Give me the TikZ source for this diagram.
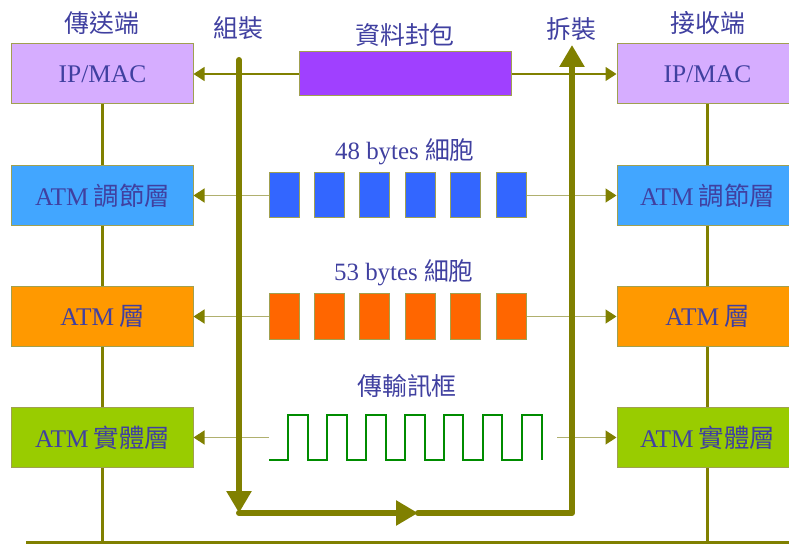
\documentclass[tikz,border=0pt]{standalone}
\usepackage{fontspec}
\setmainfont{Liberation Serif}
\newfontfamily\cjk{Noto Sans CJK TC}
\usetikzlibrary{arrows.meta}
\definecolor{txt}{RGB}{64,64,160}
\definecolor{oliv}{RGB}{128,128,0}
\definecolor{lolive}{RGB}{176,176,110}
\definecolor{bord}{RGB}{160,160,80}
\definecolor{lav}{RGB}{214,173,255}
\definecolor{lblue}{RGB}{66,166,255}
\definecolor{lorange}{RGB}{255,153,0}
\definecolor{lgreen}{RGB}{153,204,0}
\definecolor{cblue}{RGB}{51,102,255}
\definecolor{corange}{RGB}{255,102,0}
\definecolor{cpurple}{RGB}{160,64,255}
\definecolor{wgreen}{RGB}{0,140,0}
\newcommand{\gap}{\hspace{5bp}}
\tikzset{
  layerbox/.style={draw=bord, line width=1bp, minimum width=181bp, minimum height=60bp, inner sep=0pt, text=txt, font=\fontsize{25.5}{27}\selectfont},
  cellbox/.style={draw=bord, line width=1bp, minimum width=30bp, minimum height=45bp, inner sep=0pt},
  lbl/.style={text=txt, font=\fontsize{25}{27}\selectfont, inner sep=0pt},
  vline/.style={draw=oliv, line width=3bp},
  thinarrow/.style={draw=oliv, line width=1.2bp, -{Triangle[length=11bp,width=14bp,color=oliv]}},
  lightarrow/.style={draw=lolive, line width=1.5bp, -{Triangle[length=11bp,width=14bp,color=oliv]}},
  bigline/.style={draw=oliv, line width=6bp, line join=round, line cap=round},
  bigarrow/.style={-{Triangle[length=22bp,width=24bp,color=oliv]}},
  wave/.style={draw=wgreen, line width=1.2bp}
}
\begin{document}
\begin{tikzpicture}[x=1bp,y=-1bp]
\useasboundingbox (0,0) rectangle (789,544);
\clip (0,0) rectangle (789,544);
% coordinates
\coordinate (bl) at (102.5,542);
\coordinate (br) at (707.5,542);
\coordinate (bs) at (26,542);
\coordinate (be) at (789,542);
% boxes
\node[layerbox, fill=lav] (L1) at (102.5,74) {IP/MAC};
\node[layerbox, fill=lblue] (L2) at (102.5,195.5) {ATM\gap{\cjk 調節層}};
\node[layerbox, fill=lorange] (L3) at (102.5,316.5) {ATM\gap{\cjk 層}};
\node[layerbox, fill=lgreen] (L4) at (102.5,437.5) {ATM\gap{\cjk 實體層}};
\node[layerbox, fill=lav] (R1) at (707.5,74) {IP/MAC};
\node[layerbox, fill=lblue] (R2) at (707.5,195.5) {ATM\gap{\cjk 調節層}};
\node[layerbox, fill=lorange] (R3) at (707.5,316.5) {ATM\gap{\cjk 層}};
\node[layerbox, fill=lgreen] (R4) at (707.5,437.5) {ATM\gap{\cjk 實體層}};
% vertical lines between boxes
\draw[vline] (L1.south) -- (L2.north);
\draw[vline] (L2.south) -- (L3.north);
\draw[vline] (L3.south) -- (L4.north);
\draw[vline] (L4.south) -- (bl);
\draw[vline] (R1.south) -- (R2.north);
\draw[vline] (R2.south) -- (R3.north);
\draw[vline] (R3.south) -- (R4.north);
\draw[vline] (R4.south) -- (br);
\draw[vline] (bs) -- (be);
% labels
\node[lbl] (t1) at (102,23) {\cjk 傳送端};
\node[lbl] (t2) at (238,28) {\cjk 組裝};
\node[lbl] (t3) at (405,35) {\cjk 資料封包};
\node[lbl] (t4) at (571,29) {\cjk 拆裝};
\node[lbl] (t5) at (708,23) {\cjk 接收端};
\node[lbl] (t6) at (405,152) {48 bytes {\cjk 細胞}};
\node[lbl] (t7) at (404,273) {53 bytes {\cjk 細胞}};
\node[lbl] (t8) at (407,386) {\cjk 傳輸訊框};
% packet
\node[draw=bord, line width=1bp, fill=cpurple, minimum width=212bp, minimum height=44bp, inner sep=0pt] (P) at (405,74) {};
% cells
\foreach \i/\x in {1/284,2/329.5,3/374.5,4/420.5,5/465.5,6/511.5}{
  \node[cellbox, fill=cblue] (B\i) at (\x,195.5) {};
  \node[cellbox, fill=corange] (O\i) at (\x,316.5) {};
}
% wave
\coordinate (wl) at (269,437.5);
\coordinate (wr) at (557,437.5);
\draw[wave] (269,460) -- (288,460) -- (288,415) -- (308,415) -- (308,460)
  -- (327,460) -- (327,415) -- (347,415) -- (347,460)
  -- (366,460) -- (366,415) -- (386,415) -- (386,460)
  -- (405,460) -- (405,415) -- (425,415) -- (425,460)
  -- (444,460) -- (444,415) -- (463,415) -- (463,460)
  -- (483,460) -- (483,415) -- (502,415) -- (502,460)
  -- (522,460) -- (522,415) -- (542,415) -- (542,460);
% thin arrows
\draw[thinarrow] (P.west) -- (L1.east);
\draw[thinarrow] (P.east) -- (R1.west);
\draw[lightarrow] (B1.west) -- (L2.east);
\draw[lightarrow] (B6.east) -- (R2.west);
\draw[lightarrow] (O1.west) -- (L3.east);
\draw[lightarrow] (O6.east) -- (R3.west);
\draw[lightarrow] (wl) -- (L4.east);
\draw[lightarrow] (wr) -- (R4.west);
% thick assembly path
\coordinate (c1) at (239,60);
\coordinate (c2) at (239,513);
\coordinate (c3) at (418,513);
\coordinate (c4) at (572,513);
\coordinate (c5) at (572,45);
\draw[bigline, bigarrow] (c1) -- (c2);
\draw[bigline, bigarrow] (c2) -- (c3);
\draw[bigline, bigarrow] (c3) -- (c4) -- (c5);
\end{tikzpicture}
\end{document}
